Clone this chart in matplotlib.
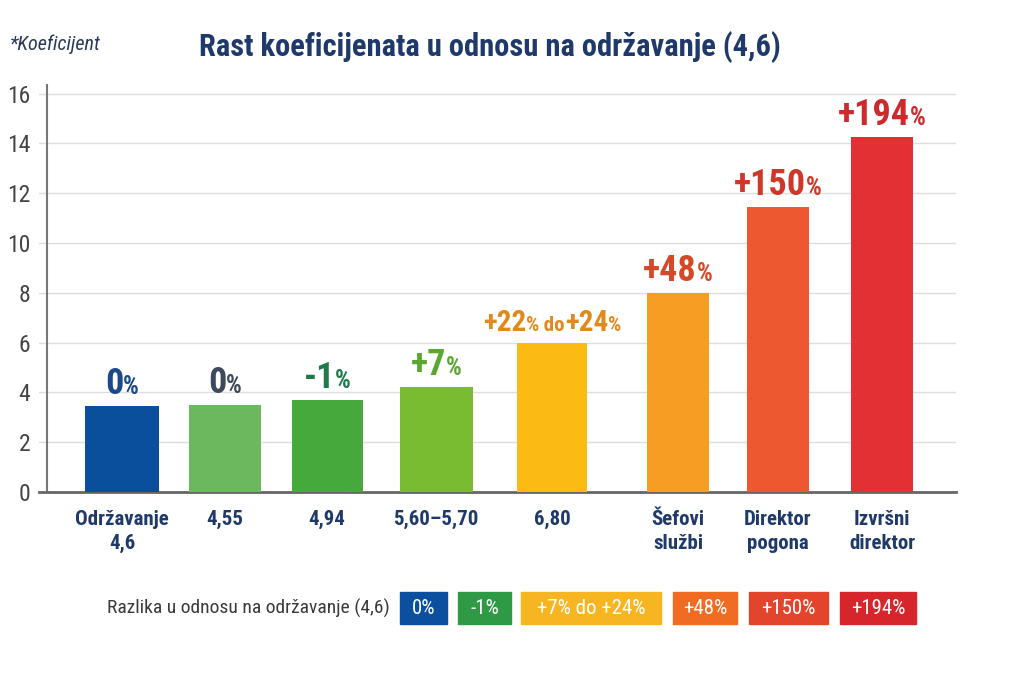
import matplotlib.pyplot as plt
from matplotlib.patches import Rectangle

plt.rcParams['figure.dpi'] = 100
FONT = ['Roboto Condensed', 'Liberation Sans', 'DejaVu Sans']
plt.rcParams['font.family'] = FONT

# podaci
categories = ['Održavanje\n4,6', '4,55', '4,94', '5,60–5,70', '6,80',
              'Šefovi\nslužbi', 'Direktor\npogona', 'Izvršni\ndirektor']
coefficients = [3.45, 3.5, 3.7, 4.2, 6.0, 8.0, 11.45, 14.25]
change_labels = [
    [('0', 'b'), ('%', 's')],
    [('0', 'b'), ('%', 's')],
    [('-1', 'b'), ('%', 's')],
    [('+7', 'b'), ('%', 's')],
    [('+22', 'm'), ('%', 'ms'), (' do', 'ms'), ('+24', 'm'), ('%', 'ms')],
    [('+48', 'b'), ('%', 's')],
    [('+150', 'b'), ('%', 's')],
    [('+194', 'b'), ('%', 's')],
]
legend_title = 'Razlika u odnosu na održavanje (4,6)'
legend_labels = ['0%', '-1%', '+7% do +24%', '+48%', '+150%', '+194%']

# izgled
bar_colors = ['#0a4f9c', '#6cb85f', '#45aa3b', '#79bb31', '#fbbb14', '#f89d23', '#ee5831', '#e33035']
label_colors = ['#1a4a8a', '#3d4a5c', '#1f7a4a', '#5aa832', '#e08a1e', '#d44a28', '#cf3828', '#cc2a2c']
x_pos = [122, 225, 327, 436, 552, 678, 778, 882]
widths = [74, 72, 71, 73, 70, 62, 62, 62]
legend_colors = ['#0b4f9e', '#2e9a46', '#f8b522', '#ef6c22', '#e2452c', '#d7262b']
box_x = [400, 458, 521, 673, 749, 840]
box_w = [47, 53, 140, 64, 79, 76]
sizes = {'b': 26, 's': 18, 'm': 21, 'ms': 15}
navy = '#1f3a6a'

W, H = 1024, 683
fig = plt.figure(figsize=(W / 100, H / 100))
ax = fig.add_axes([39 / W, 191 / H, (956 - 39) / W, (492 - 85) / H])

ax.bar(x_pos, coefficients, width=widths, color=bar_colors, zorder=3)
ax.set_xlim(39, 956)
ax.set_ylim(0, 16.35)
ax.set_yticks(range(0, 17, 2))
ax.yaxis.grid(True, color='#dedede', linewidth=1, zorder=0)
ax.tick_params(axis='y', length=0, pad=12, labelsize=17, labelcolor='#444444')
ax.set_xticks(x_pos)
ax.set_xticklabels(categories, fontsize=15, fontweight='bold', color=navy, linespacing=1.35)
ax.tick_params(axis='x', length=0, pad=13)
for s in ['top', 'right']:
    ax.spines[s].set_visible(False)
ax.spines['left'].set_position(('data', 47))
ax.spines['left'].set_color('#777777')
ax.spines['left'].set_linewidth(1.5)
ax.spines['bottom'].set_color('#666666')
ax.spines['bottom'].set_linewidth(2)

# oznake iznad stupaca (broj veći, % manji)
renderer = fig.canvas.get_renderer()
for x, v, parts, c in zip(x_pos, coefficients, change_labels, label_colors):
    texts = []
    ws = []
    for s, k in parts:
        t = ax.annotate(s, (x, v), xytext=(0, 0), textcoords='offset pixels',
                        ha='left', va='baseline', fontsize=sizes[k],
                        fontweight='bold', color=c, zorder=4)
        texts.append(t)
        ws.append(t.get_window_extent(renderer).width)
    off = -sum(ws) / 2
    for t, w in zip(texts, ws):
        t.xyann = (off, 12)
        off += w

fig.text(490 / W, 1 - 47 / H, 'Rast koeficijenata u odnosu na održavanje (4,6)',
         ha='center', va='center', fontsize=22, fontweight='bold', color=navy)
fig.text(10 / W, 1 - 44 / H, '*Koeficijent', ha='left', va='center',
         fontsize=14.5, fontstyle='italic', color='#2a3a55')

# legenda na dnu
fig.text(107 / W, 1 - 608 / H, legend_title, ha='left', va='center',
         fontsize=14, color='#3a3a3a')
for lx, lw, lab, lc in zip(box_x, box_w, legend_labels, legend_colors):
    fig.patches.append(Rectangle((lx / W, 1 - 624 / H), lw / W, 32 / H,
                                 transform=fig.transFigure, color=lc))
    fig.text((lx + lw / 2) / W, 1 - 608 / H, lab, ha='center', va='center',
             fontsize=15, color='white')

fig.savefig('out.png', dpi=100)
